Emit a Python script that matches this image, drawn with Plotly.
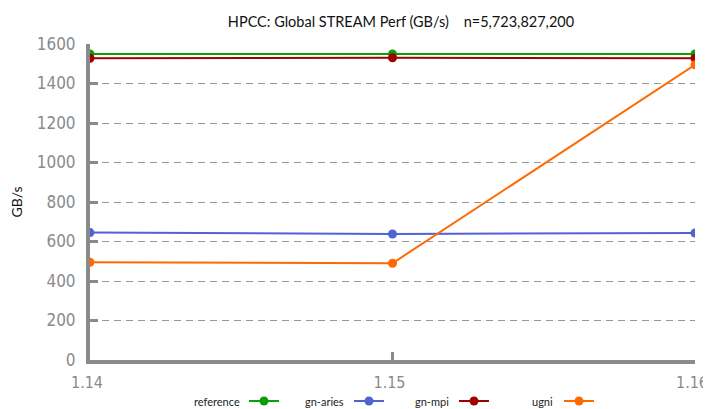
import plotly.graph_objects as go

# versions on the x axis
versions = ["1.14", "1.15", "1.16"]

# GB/s per build
reference = [1550, 1550, 1550]
gn_aries = [645, 638, 643]
gn_mpi = [1528, 1530, 1528]
ugni = [495, 490, 1495]

series_names = ["reference", "gn-aries", "gn-mpi", "ugni"]
series_values = [reference, gn_aries, gn_mpi, ugni]
series_colors = ["#0a9e0a", "#5063d4", "#a00000", "#ff6a00"]

y_ticks = [0, 200, 400, 600, 800, 1000, 1200, 1400, 1600]

FONT = "Lato, 'Open Sans', sans-serif"
TICK_FONT = "'DejaVu Sans Condensed', Lato, sans-serif"
GREY = "#8a8a8a"

# the page puts the figure 8px in from the top-left corner
W, H = 703, 401
L, R, T, B = 82, 16, 36, 49
PW, PH = W - L - R, H - T - B

fig = go.Figure()
for name, vals, col in zip(series_names, series_values, series_colors):
    fig.add_trace(go.Scatter(
        x=versions, y=vals, name="", mode="lines+markers",
        line=dict(color=col, width=2),
        marker=dict(color=col, size=9),
        hovertemplate=name + ": %{y}<extra></extra>",
    ))

# legend labels sit to the left of each symbol
label_px = [234, 338, 443, 547]
for name, px in zip(series_names, label_px):
    fig.add_annotation(
        text=name, xref="paper", yref="paper",
        x=(px - L) / PW, y=-41 / PH, xanchor="right", yanchor="middle",
        showarrow=False, font=dict(family=FONT, size=11, color="#222"),
    )

fig.update_layout(
    width=W, height=H,
    margin=dict(l=L, r=R, t=T, b=B, autoexpand=False),
    paper_bgcolor="white", plot_bgcolor="white",
    font=dict(family=FONT),
    title=dict(
        text="HPCC: Global STREAM Perf (GB/s)\u00a0\u00a0\u00a0\u00a0n=5,723,827,200",
        x=393 / W, xanchor="center", y=1 - 14 / H, yanchor="middle",
        font=dict(family=FONT, size=14.5, color="#111"),
    ),
    showlegend=True,
    legend=dict(
        orientation="h", x=(236 - L) / PW, xanchor="left",
        y=-41 / PH, yanchor="middle",
        entrywidth=60, entrywidthmode="pixels",
        font=dict(size=11), bgcolor="rgba(0,0,0,0)",
    ),
)

fig.update_xaxes(
    type="category", range=[0, 2], automargin=False,
    showline=True, linewidth=4, linecolor=GREY,
    ticks="inside", ticklen=8, tickwidth=3, tickcolor=GREY,
    ticklabelstandoff=5, ticklabeloverflow="allow", ticklabelshift=-3,
    showgrid=False, zeroline=False,
    tickfont=dict(family=TICK_FONT, size=16, color=GREY),
)
fig.update_yaxes(
    range=[0, 1600], tickvals=y_ticks, automargin=False,
    showline=True, linewidth=4, linecolor=GREY,
    ticks="inside", ticklen=8, tickwidth=3, tickcolor=GREY,
    ticklabelstandoff=7,
    showgrid=True, gridcolor="#9a9a9a", gridwidth=1, griddash="7px,5px",
    zeroline=False,
    tickfont=dict(family=TICK_FONT, size=17, color=GREY),
    title=dict(text="GB/s", font=dict(family=FONT, size=14, color="#111"), standoff=18),
)

fig.write_html("out.html")
